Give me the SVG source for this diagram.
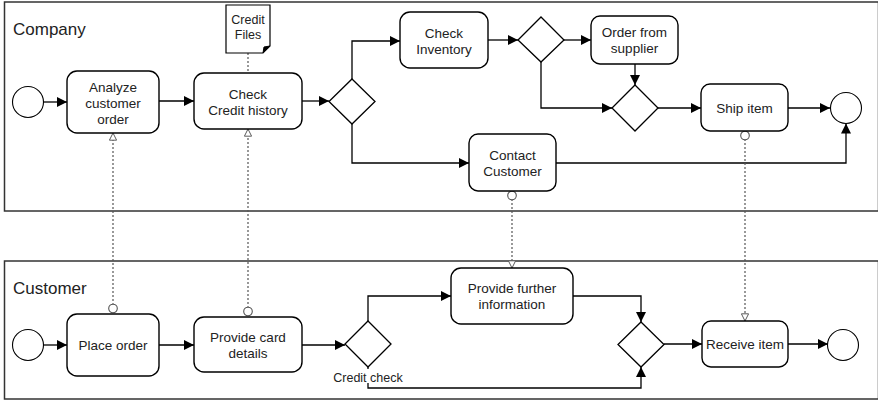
<svg xmlns="http://www.w3.org/2000/svg" width="878" height="400" viewBox="0 0 878 400">
  <style>
    .pool { fill: #fff; stroke: #333; stroke-width: 1.5; }
    .task { fill: #fff; stroke: #000; stroke-width: 1.4; }
    .gw { fill: #fff; stroke: #000; stroke-width: 1.3; }
    .ev { fill: #fff; stroke: #000; stroke-width: 1.1; }
    .flow { fill: none; stroke: #000; stroke-width: 1.3; marker-end: url(#arrow); }
    .msg { fill: none; stroke: #555; stroke-width: 1.2; stroke-dasharray: 2 2; marker-start: url(#msgStart); marker-end: url(#msgEnd); }
    .assoc { fill: none; stroke: #555; stroke-width: 1.2; stroke-dasharray: 2 2; }
    text { font-family: "Liberation Sans", Arial, sans-serif; fill: #222; }
    .lbl { font-size: 13.5px; text-anchor: middle; }
    .pl { font-size: 17px; }
    .sm { font-size: 12.5px; text-anchor: middle; }
  </style>
  <defs>
    <marker id="arrow" viewBox="0 0 10 10" refX="10" refY="5" markerWidth="10" markerHeight="10" markerUnits="userSpaceOnUse" orient="auto">
      <path d="M0,0 L10,5 L0,10 z" fill="#000"/>
    </marker>
    <marker id="msgEnd" viewBox="0 0 10 10" refX="9.5" refY="5" markerWidth="8" markerHeight="8" markerUnits="userSpaceOnUse" orient="auto">
      <path d="M0.5,0.5 L9.5,5 L0.5,9.5 z" fill="#fff" stroke="#555" stroke-width="1.2"/>
    </marker>
    <marker id="msgStart" viewBox="0 0 10 10" refX="0.5" refY="5" markerWidth="10" markerHeight="10" markerUnits="userSpaceOnUse" orient="auto">
      <circle cx="5" cy="5" r="4.3" fill="#fff" stroke="#555" stroke-width="1.1"/>
    </marker>
  </defs>

  <!-- pools -->
  <g id="pool-company">
    <rect class="pool" x="4.5" y="2" width="874" height="209"/>
    <text class="pl" x="13" y="35">Company</text>
  </g>
  <g id="pool-customer">
    <rect class="pool" x="4.5" y="261" width="874" height="138"/>
    <text class="pl" x="13" y="294">Customer</text>
  </g>

  <!-- connectors -->
  <g id="connectors">
    <!-- company lane -->
    <path class="flow" d="M43.5,102 L67,102"/>
    <path class="flow" d="M159,101 L194,101"/>
    <path class="flow" d="M302,101 L329,101"/>
    <path class="flow" d="M352,79 L352,41 L400,41"/>
    <path class="flow" d="M352,124 L352,163 L469,163"/>
    <path class="flow" d="M488,40 L518,40"/>
    <path class="flow" d="M564,40 L591,40"/>
    <path class="flow" d="M635,64 L635,85"/>
    <path class="flow" d="M541,62 L541,108 L612,108"/>
    <path class="flow" d="M658,108 L701,108"/>
    <path class="flow" d="M788,108 L830,108"/>
    <path class="flow" d="M556,163 L846,163 L846,123.5"/>
    <!-- customer lane -->
    <path class="flow" d="M43.5,345 L67,345"/>
    <path class="flow" d="M159,345 L194,345"/>
    <path class="flow" d="M302,345 L345,345"/>
    <path class="flow" d="M368,321 L368,296 L451,296"/>
    <path class="flow" d="M368,367 L368,388 L641,388 L641,367"/>
    <path class="flow" d="M573,296 L641,296 L641,322"/>
    <path class="flow" d="M664,344 L702,344"/>
    <path class="flow" d="M788,344 L828,344"/>
    <!-- messages between pools -->
    <path class="msg" d="M113,313 L113,133"/>
    <path class="msg" d="M248,316 L248,129"/>
    <path class="msg" d="M512,191 L512,268"/>
    <path class="msg" d="M745,131 L745,321"/>
    <!-- data association -->
    <path class="assoc" d="M248,53 L248,73"/>
  </g>

  <!-- company nodes -->
  <g id="start-company"><circle class="ev" cx="28" cy="102" r="15.5"/></g>
  <g id="analyze-order">
    <rect class="task" x="67" y="71" width="92" height="62" rx="10"/>
    <text class="lbl" x="113" y="92">Analyze</text>
    <text class="lbl" x="113" y="108">customer</text>
    <text class="lbl" x="113" y="124">order</text>
  </g>
  <g id="credit-files">
    <path d="M226,5 L270,5 L270,46 L263,53 L226,53 z" fill="#fff" stroke="#000" stroke-width="1.2"/>
    <path d="M270,46 L263,53 L264,47 z" fill="#000" stroke="#000" stroke-width="1"/>
    <text class="sm" x="248" y="24">Credit</text>
    <text class="sm" x="248" y="39">Files</text>
  </g>
  <g id="check-credit">
    <rect class="task" x="194" y="73" width="108" height="56" rx="10"/>
    <text class="lbl" x="248" y="99">Check</text>
    <text class="lbl" x="248" y="115">Credit history</text>
  </g>
  <g id="gw-credit"><path class="gw" d="M352,79 L375,101.5 L352,124 L329,101.5 z"/></g>
  <g id="check-inventory">
    <rect class="task" x="400" y="12" width="88" height="56" rx="10"/>
    <text class="lbl" x="444" y="38">Check</text>
    <text class="lbl" x="444" y="54">Inventory</text>
  </g>
  <g id="gw-stock"><path class="gw" d="M541,17 L564,40 L541,62 L518,40 z"/></g>
  <g id="order-supplier">
    <rect class="task" x="591" y="16" width="87" height="48" rx="9"/>
    <text class="lbl" x="634.5" y="37">Order from</text>
    <text class="lbl" x="634.5" y="53">supplier</text>
  </g>
  <g id="gw-merge"><path class="gw" d="M635,85 L658,108 L635,131 L612,108 z"/></g>
  <g id="ship-item">
    <rect class="task" x="701" y="84" width="87" height="47" rx="9"/>
    <text class="lbl" x="744.5" y="113">Ship item</text>
  </g>
  <g id="end-company"><circle class="ev" cx="846" cy="108" r="15.5"/></g>
  <g id="contact-customer">
    <rect class="task" x="469" y="134" width="87" height="57" rx="9"/>
    <text class="lbl" x="512.5" y="160">Contact</text>
    <text class="lbl" x="512.5" y="176">Customer</text>
  </g>

  <!-- customer nodes -->
  <g id="start-customer"><circle class="ev" cx="28" cy="345" r="15.5"/></g>
  <g id="place-order">
    <rect class="task" x="67" y="314" width="92" height="62" rx="10"/>
    <text class="lbl" x="113" y="350">Place order</text>
  </g>
  <g id="provide-card">
    <rect class="task" x="194" y="317" width="108" height="55" rx="10"/>
    <text class="lbl" x="248" y="342">Provide card</text>
    <text class="lbl" x="248" y="358">details</text>
  </g>
  <g id="gw-credit-check">
    <path class="gw" d="M368,321 L391,344 L368,367 L345,344 z"/>
    <!-- label sits on a white backing so the outgoing flow hides beneath it -->
    <rect x="332" y="369" width="72" height="14" fill="#fff"/>
    <text class="sm" x="368" y="382">Credit check</text>
  </g>
  <g id="provide-info">
    <rect class="task" x="451" y="268" width="122" height="56" rx="10"/>
    <text class="lbl" x="512" y="293">Provide further</text>
    <text class="lbl" x="512" y="309">information</text>
  </g>
  <g id="gw-join"><path class="gw" d="M641,322 L664,344.5 L641,367 L618,344.5 z"/></g>
  <g id="receive-item">
    <rect class="task" x="702" y="321" width="86" height="46" rx="9"/>
    <text class="lbl" x="745" y="349">Receive item</text>
  </g>
  <g id="end-customer"><circle class="ev" cx="843" cy="345" r="15.5"/></g>
</svg>
